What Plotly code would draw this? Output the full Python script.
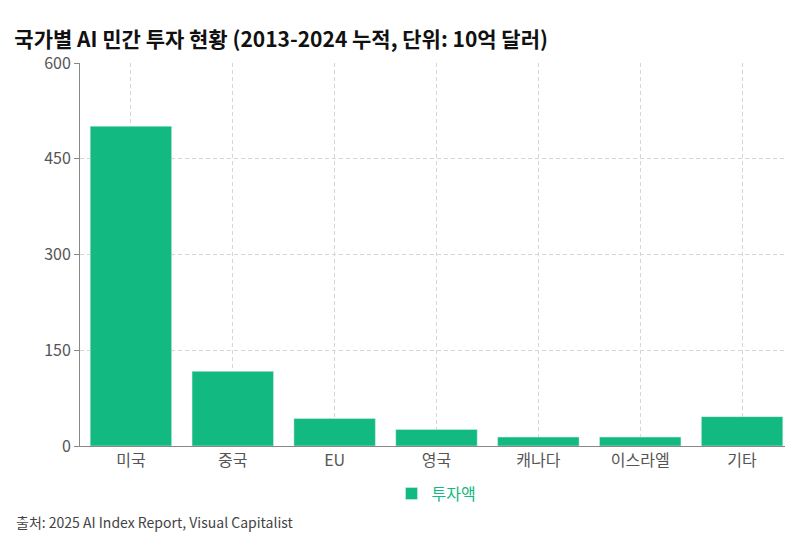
import plotly.graph_objects as go

# --- DATA ---
countries = ['미국', '중국', 'EU', '영국', '캐나다', '이스라엘', '기타']
invest = [501, 117, 43, 26, 14, 14, 46]
y_ticks = [0, 150, 300, 450, 600]

FONT = "Noto Sans CJK KR"

fig = go.Figure()
fig.add_trace(go.Bar(
    x=countries, y=invest, name='투자액',
    marker_color='#12b981', width=0.8
))

fig.update_layout(
    title=dict(text="<b>국가별 AI 민간 투자 현황 (2013-2024 누적, 단위: 10억 달러)</b>",
               x=0.008, y=0.955, font=dict(size=21, color='#111', family=FONT)),
    font=dict(family=FONT, color='#555', size=15),
    plot_bgcolor='white', paper_bgcolor='white',
    width=793, height=543,
    margin=dict(l=72, r=8, t=55, b=105),
    showlegend=True,
    legend=dict(orientation='h', x=0.5, xanchor='center', y=-0.08, yanchor='top',
                font=dict(color='#12b981', size=16)),
    bargap=0.2,
)
fig.update_xaxes(showgrid=True, gridcolor='#d6d6d6', griddash='4px,3px',
                 showline=True, linecolor='#888', ticks='', tickfont=dict(size=16))
fig.update_yaxes(range=[0, 600], tickvals=y_ticks, showgrid=True, gridcolor='#d6d6d6',
                 griddash='4px,3px', showline=True, linecolor='#888', ticks='outside',
                 ticklen=5, tickcolor='#888', zeroline=False, tickfont=dict(size=16))

fig.add_annotation(text="출처: 2025 AI Index Report, Visual Capitalist",
                   xref='paper', yref='paper', x=-0.092, y=-0.23, xanchor='left',
                   showarrow=False, font=dict(size=14, color='#444'))

fig.write_html("out.html")
